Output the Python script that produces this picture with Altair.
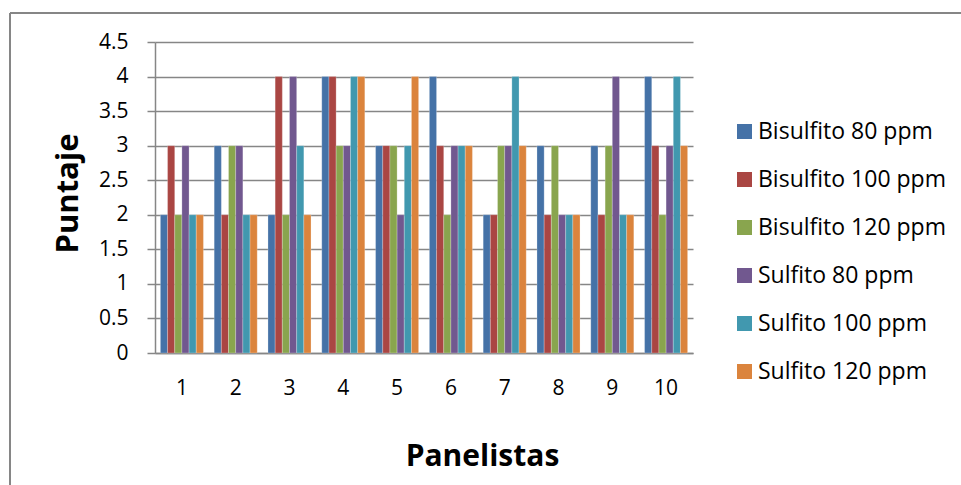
import altair as alt
import pandas as pd

panelistas = [1, 2, 3, 4, 5, 6, 7, 8, 9, 10]
series = ["Bisulfito 80 ppm", "Bisulfito 100 ppm", "Bisulfito 120 ppm",
          "Sulfito 80 ppm", "Sulfito 100 ppm", "Sulfito 120 ppm"]
bisulfito_80 = [2, 3, 2, 4, 3, 4, 2, 3, 3, 4]
bisulfito_100 = [3, 2, 4, 4, 3, 3, 2, 2, 2, 3]
bisulfito_120 = [2, 3, 2, 3, 3, 2, 3, 3, 3, 2]
sulfito_80 = [3, 3, 4, 3, 2, 3, 3, 2, 4, 3]
sulfito_100 = [2, 2, 3, 4, 3, 3, 4, 2, 2, 4]
sulfito_120 = [2, 2, 2, 4, 4, 3, 3, 2, 2, 3]
y_ticks = [0, 0.5, 1, 1.5, 2, 2.5, 3, 3.5, 4, 4.5]
colors = ["#4572A7", "#AA4643", "#89A54E", "#71588F", "#4198AF", "#DB843D"]

values = [bisulfito_80, bisulfito_100, bisulfito_120, sulfito_80, sulfito_100, sulfito_120]
rows = []
for s, vals in zip(series, values):
    for p, v in zip(panelistas, vals):
        rows.append({"Panelista": p, "Serie": s, "Puntaje": v})
df = pd.DataFrame(rows)

FONT = "Open Sans"
GRAY = "#868686"

bars = alt.Chart(df).mark_bar(stroke="white", strokeWidth=0.4, strokeOpacity=0.6).encode(
    x=alt.X("Panelista:O",
            scale=alt.Scale(paddingInner=0.2, paddingOuter=0.1),
            axis=alt.Axis(title="Panelistas", labelAngle=0, ticks=False, tickSize=0,
                          labelFontSize=21, labelFont=FONT, labelColor="black",
                          labelBaseline="middle", labelPadding=35,
                          domainColor=GRAY, domainWidth=1.5,
                          titleFont=FONT, titleFontSize=30, titleFontWeight="bold",
                          titleColor="black", titleX=327, titleY=112,
                          titleAlign="center", titleBaseline="alphabetic")),
    xOffset=alt.XOffset("Serie:N", sort=series, scale=alt.Scale(paddingInner=0, paddingOuter=0)),
    y=alt.Y("Puntaje:Q",
            scale=alt.Scale(domain=[0, 4.5], nice=False),
            axis=alt.Axis(title="Puntaje", values=y_ticks, format="~g",
                          tickSize=8, tickColor=GRAY, tickWidth=1.5,
                          labelFontSize=21, labelFont=FONT, labelColor="black",
                          labelPadding=19,
                          domainColor=GRAY, domainWidth=1.5,
                          grid=True, gridColor=GRAY, gridWidth=1.5,
                          titleFont=FONT, titleFontSize=31, titleFontWeight="bold",
                          titleColor="black", titleAngle=-90, titleX=-78, titleY=151,
                          titleAlign="center", titleBaseline="alphabetic")),
    color=alt.Color("Serie:N", sort=series,
                    scale=alt.Scale(domain=series, range=colors),
                    legend=alt.Legend(title=None, orient="none", legendX=578, legendY=78,
                                      symbolType="square", symbolSize=225,
                                      symbolStrokeWidth=0, labelFont=FONT,
                                      labelFontSize=23, labelColor="black",
                                      labelLimit=400,
                                      labelOffset=2, rowPadding=24, padding=0)),
)

left_border = alt.Chart(df).mark_rule(color=GRAY, strokeWidth=1.5).encode(
    x=alt.value(-145), y=alt.value(-29), y2=alt.value(460)
)
top_border = alt.Chart(df).mark_rule(color=GRAY, strokeWidth=1.5).encode(
    x=alt.value(-145), x2=alt.value(820), y=alt.value(-29)
)

chart = alt.layer(bars, left_border, top_border).properties(
    width=538, height=311,
    autosize=alt.AutoSizeParams(type="none"),
    padding={"left": 155, "top": 42, "right": 268, "bottom": 132},
    background="white",
).configure_view(stroke=None)

chart.save("out.html", embed_options={"renderer": "svg", "actions": False})
